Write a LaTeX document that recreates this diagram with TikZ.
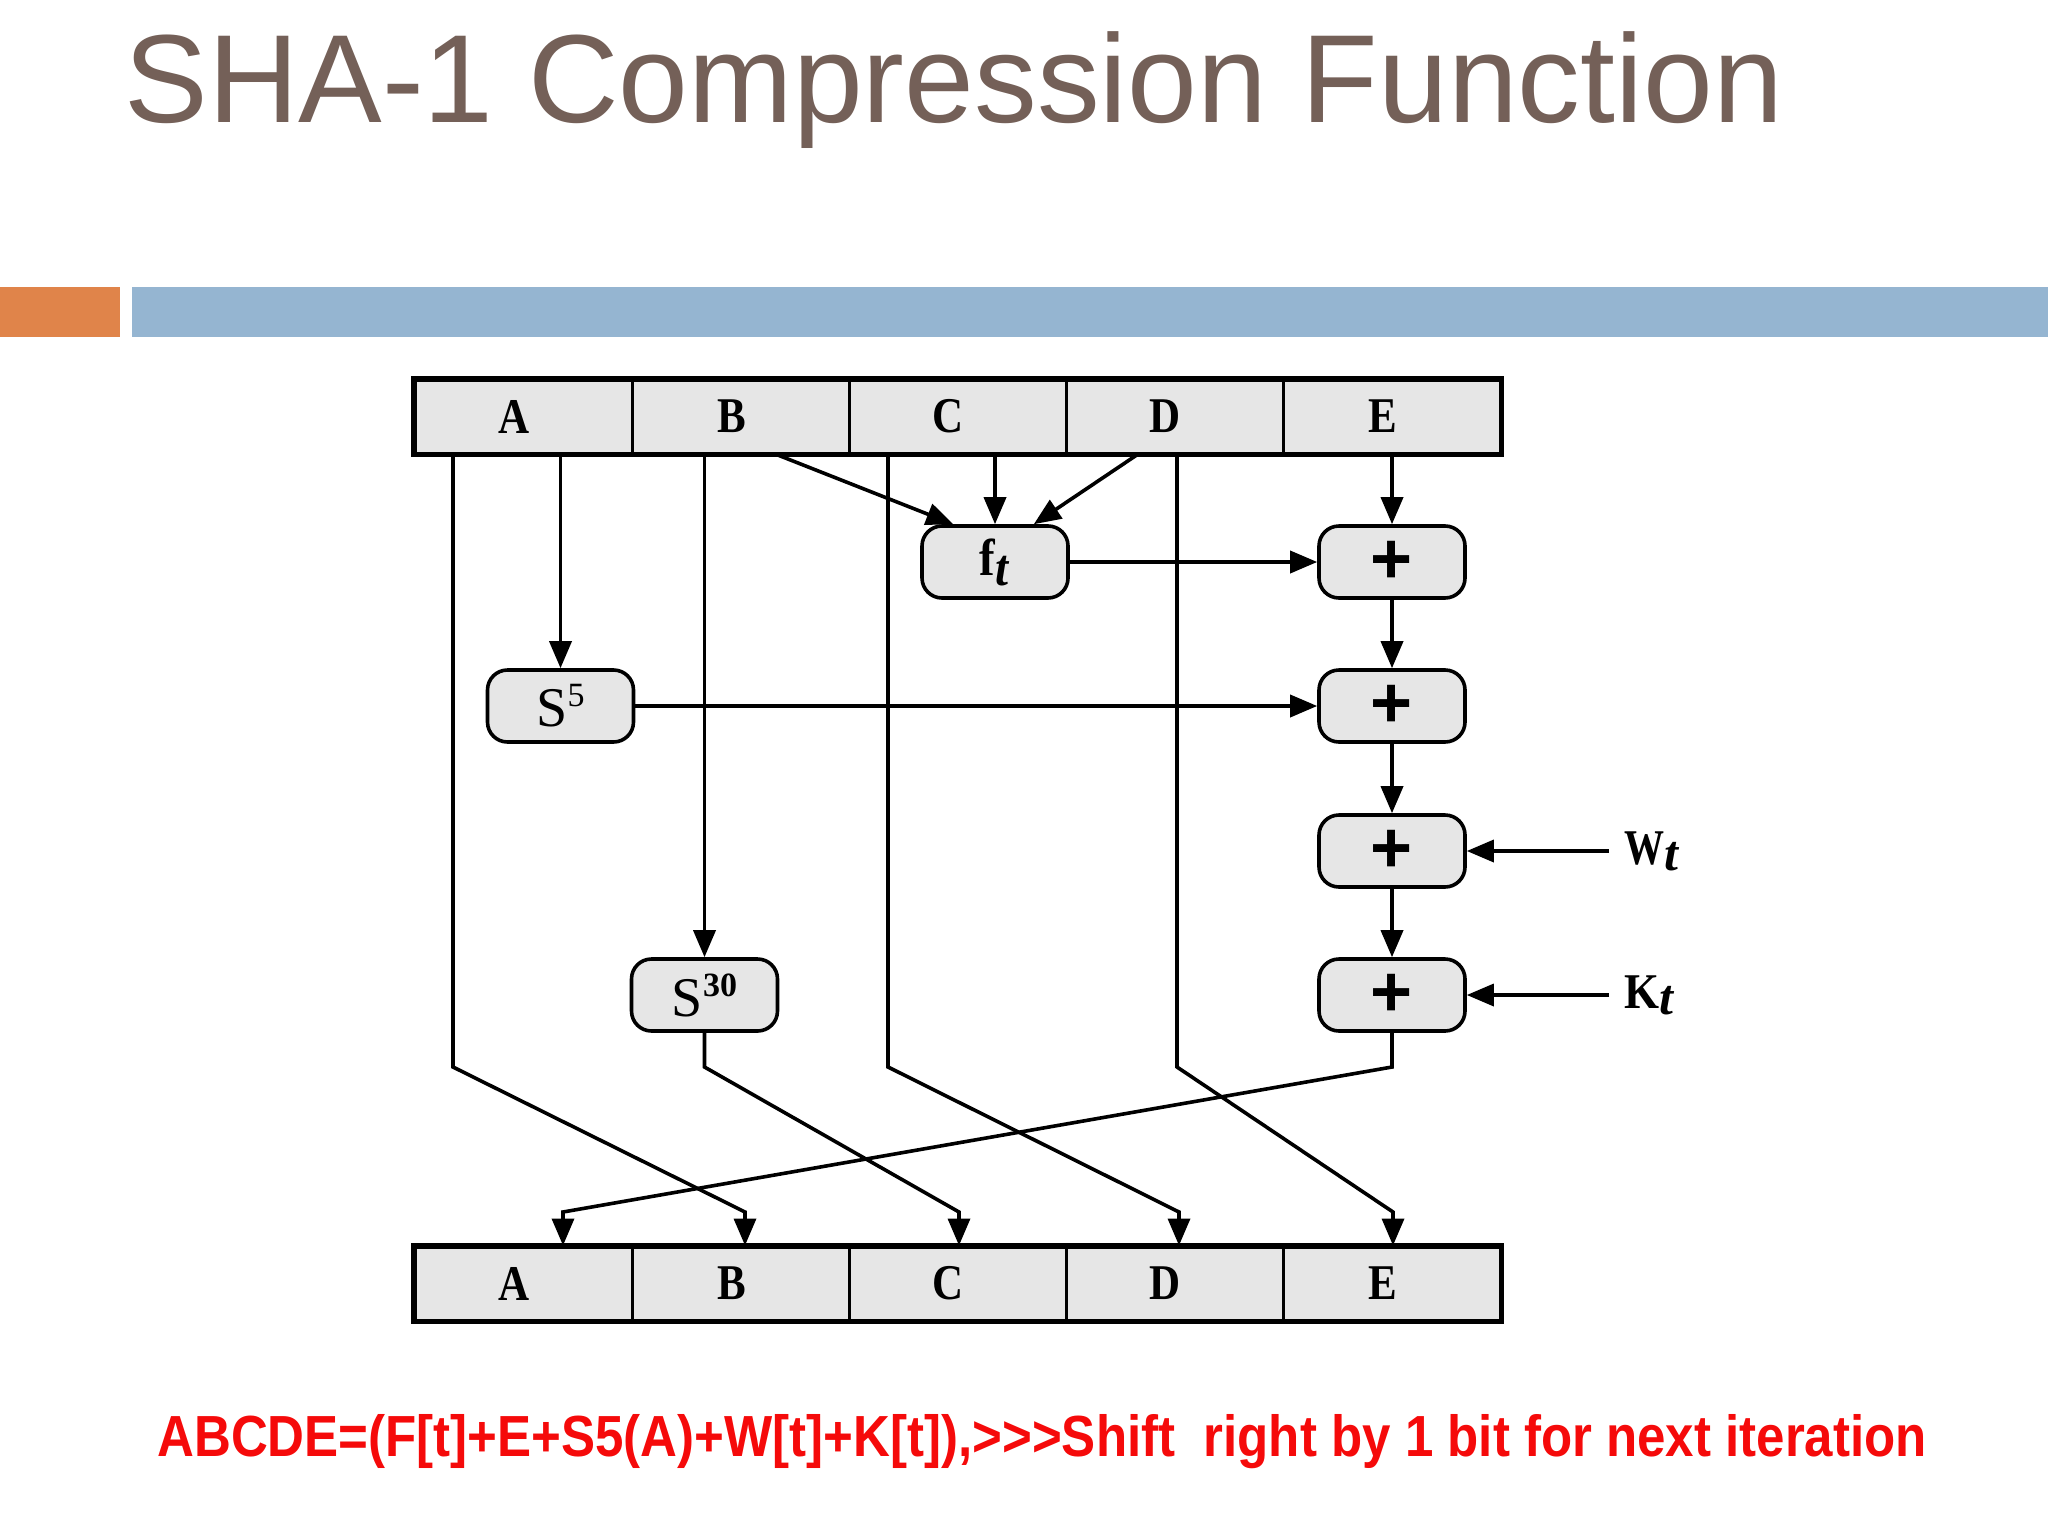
\documentclass[tikz,border=0pt]{standalone}
\usepackage{graphicx}
\usepackage{fontspec}
\setmainfont{Liberation Serif}
\newfontfamily\titlefont{Liberation Sans}
\usetikzlibrary{arrows.meta,calc}
\definecolor{titlecol}{RGB}{116,96,88}
\definecolor{barorange}{RGB}{224,132,74}
\definecolor{barblue}{RGB}{149,181,209}
\definecolor{boxgray}{RGB}{230,230,230}
\definecolor{notered}{RGB}{245,10,10}
\newcommand\reglbl[1]{\scalebox{0.86}[1]{#1}\kern9pt}
\newcommand\plussign{{\titlefont\fontsize{36}{36}\selectfont\bfseries +}}
\begin{document}
\begin{tikzpicture}[x=0.5pt,y=-0.5pt,
  cell/.style={draw, line width=1.5pt, fill=boxgray, minimum width=108.5pt,
    minimum height=36.5pt, inner sep=0pt,
    font=\fontsize{25}{25}\selectfont\bfseries},
  opbox/.style={draw, line width=1.8pt, fill=boxgray, rounded corners=10pt,
    minimum width=73pt, minimum height=36pt, inner sep=0pt},
  conn/.style={line width=1.8pt, -{Triangle[length=13.5pt,width=11pt]}},
  sidelbl/.style={inner sep=0pt, font=\fontsize{25}{25}\selectfont\bfseries},
]
\useasboundingbox (0,0) rectangle (2048,1536);
% title and bars
\node[anchor=base west, inner sep=0pt, text=titlecol,
  font=\titlefont\fontsize{62.7}{62.7}\selectfont] (title) at (124,122)
  {SHA-1 Compression Function};
\fill[barorange] (0,287) rectangle (120,337);
\fill[barblue] (132,287) rectangle (2048,337);

% top register
\node[cell] (tA) at (523.5,416.5) {\reglbl{A}};
\node[cell] (tB) at (740.5,416.5) {\reglbl{B}};
\node[cell] (tC) at (957.5,416.5) {\reglbl{C}};
\node[cell] (tD) at (1174.5,416.5) {\reglbl{D}};
\node[cell] (tE) at (1391.5,416.5) {\reglbl{E}};
\draw[line width=2.4pt] (tA.north west) rectangle (tE.south east);

% bottom register
\node[cell] (bA) at (523.5,1283.5) {\reglbl{A}};
\node[cell] (bB) at (740.5,1283.5) {\reglbl{B}};
\node[cell] (bC) at (957.5,1283.5) {\reglbl{C}};
\node[cell] (bD) at (1174.5,1283.5) {\reglbl{D}};
\node[cell] (bE) at (1391.5,1283.5) {\reglbl{E}};
\draw[line width=2.4pt] (bA.north west) rectangle (bE.south east);

% operation boxes
\node[opbox] (ft) at (995,562)
  {\fontsize{26}{26}\selectfont\scalebox{0.9}[1]{\textbf{f}\raisebox{-5pt}{\textbf{\textit{t}}}}};
\node[opbox] (P1) at (1392,562) {\plussign};
\node[opbox] (P2) at (1392,706) {\plussign};
\node[opbox] (P3) at (1392,851) {\plussign};
\node[opbox] (P4) at (1392,995) {\plussign};
\node[opbox] (S5) at (560.5,706) {\fontsize{28}{28}\selectfont S\raisebox{10pt}{\fontsize{17}{17}\selectfont 5}};
\node[opbox] (S30) at (704.5,995) {\fontsize{28}{28}\selectfont S\raisebox{10pt}{\fontsize{17}{17}\selectfont\bfseries 30}};

% side inputs
\node[sidelbl] (Wt) at (1652,851) {\scalebox{0.8}[1]{W}\raisebox{-3pt}{\textit{t}}};
\node[sidelbl] (Kt) at (1650,995) {\scalebox{0.9}[1]{K}\raisebox{-3pt}{\textit{t}}};

% bend coordinates
\coordinate (aBend) at (453,1067);
\coordinate (aEnd) at (745,1212);
\coordinate (cBend) at (888,1067);
\coordinate (cEnd) at (1179,1212);
\coordinate (dBend) at (1177,1067);
\coordinate (dEnd) at (1393,1212);
\coordinate (sBend) at (704.5,1067);
\coordinate (sEnd) at (959,1212);
\coordinate (pBend) at (1392,1067);
\coordinate (pEnd) at (563,1212);
\coordinate (wIn) at (1609,851);
\coordinate (kIn) at (1609,995);

% connectors from top register
\draw[conn] (tA.south -| aBend) -- (aBend) -- (aEnd) -- (aEnd |- bB.north);
\draw[conn] (tA.south -| S5.north) -- (S5.north);
\draw[conn] (tB.south -| S30.north) -- (S30.north);
\draw[conn] ($(tB.south west)+(146,0)$) -- ($(ft.north west)+(33,0)$);
\draw[conn] (tC.south -| cBend) -- (cBend) -- (cEnd) -- (cEnd |- bD.north);
\draw[conn] (tC.south -| ft.north) -- (ft.north);
\draw[conn] ($(tD.south west)+(73,0)$) -- ($(ft.north east)+(-36,0)$);
\draw[conn] (tD.south -| dBend) -- (dBend) -- (dEnd) -- (dEnd |- bE.north);
\draw[conn] (tE.south -| P1.north) -- (P1.north);

% adders
\draw[conn] (ft.east) -- (P1.west);
\draw[conn] (S5.east) -- (P2.west);
\draw[conn] (P1.south) -- (P2.north);
\draw[conn] (P2.south) -- (P3.north);
\draw[conn] (P3.south) -- (P4.north);
\draw[conn] (wIn) -- (P3.east);
\draw[conn] (kIn) -- (P4.east);

% outputs
\draw[conn] (S30.south) -- (sBend) -- (sEnd) -- (sEnd |- bC.north);
\draw[conn] (P4.south) -- (pBend) -- (pEnd) -- (pEnd |- bA.north);

% note
\node[anchor=base west, inner sep=0pt, text=notered,
  font=\titlefont\bfseries\fontsize{29}{29}\selectfont] (note) at (157,1456)
  {\scalebox{0.88}[1]{ABCDE=(F[t]+E+S5(A)+W[t]+K[t]),>>>Shift\ \ right by 1 bit for next iteration}};
\end{tikzpicture}
\end{document}
